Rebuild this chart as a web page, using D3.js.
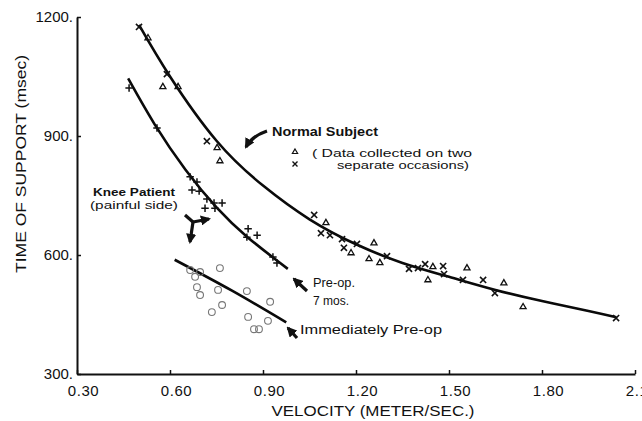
<!DOCTYPE html>
<html>
<head>
<meta charset="utf-8">
<script src="https://cdn.jsdelivr.net/npm/d3@7"></script>
<style>
  body { margin: 0; background: #fff; }
  svg text { font-family: "Liberation Sans", Arial, sans-serif; fill: #111; }
</style>
</head>
<body>
<script>
var width = 642, height = 421;

// axis ticks
var xTicks = [0.30, 0.60, 0.90, 1.20, 1.50, 1.80, 2.10];
var yTicks = [300, 600, 900, 1200];

// normal subject, triangles (occasion 1) and x's (occasion 2)  [velocity, msec]
var normalTri = [[0.529,1147],[0.577,1024],[0.626,1024],[0.752,870],[0.761,837],
  [1.103,681],[1.184,605],[1.258,630],[1.242,590],[1.277,580],[1.448,570],
  [1.558,567],[1.432,537],[1.677,529],[1.739,469]];
var normalX = [[0.500,1175],[0.590,1056],[0.719,887],[1.065,701],[1.087,655],
  [1.116,650],[1.155,640],[1.161,618],[1.203,628],[1.300,597],[1.371,565],
  [1.400,567],[1.423,577],[1.481,572],[1.484,552],[1.545,537],[1.610,537],
  [1.648,504],[2.039,441]];
// knee patient, pre-op 7 mos (+)
var preOp7 = [[0.468,1021],[0.558,920],[0.665,797],[0.687,784],[0.671,764],
  [0.694,761],[0.719,741],[0.742,731],[0.768,731],[0.713,718],[0.745,718],
  [0.852,666],[0.881,650],[0.848,645],[0.932,595],[0.945,580]];
// knee patient, immediately pre-op (o)
var preOpNow = [[0.665,562],[0.697,557],[0.681,545],[0.761,567],[0.687,519],
  [0.697,499],[0.755,512],[0.848,509],[0.768,474],[0.735,456],[0.852,444],
  [0.923,482],[0.916,434],[0.871,413],[0.887,413]];

// hand-fitted curves
var normalFit = [[0.50,1180],[0.60,1050],[0.75,888],[0.90,775],[1.05,690],[1.20,627],
  [1.35,580],[1.50,545],[1.65,512],[1.80,484],[1.95,459],[2.04,443]];
var preOp7Fit = [[0.465,1045],[0.55,930],[0.65,815],[0.75,720],[0.85,645],[0.98,565]];
var preOpNowFit = [[0.615,588],[0.80,510],[0.975,430]];

var svg = d3.select("body").append("svg")
  .attr("width", width).attr("height", height);

var x = d3.scaleLinear().domain([0.30, 2.10]).range([77, 635]);
var y = d3.scaleLinear().domain([300, 1200]).range([374, 17]);

// axes
var xAxis = d3.axisBottom(x).tickValues(xTicks).tickSize(-4).tickSizeOuter(0)
  .tickPadding(11).tickFormat(d3.format(".2f"));
var gx = svg.append("g").attr("transform", "translate(0," + y(300) + ")").call(xAxis);
gx.selectAll("text").attr("dx", 6).style("font-size", "15px").style("letter-spacing", "0.6px");

var yAxis = d3.axisLeft(y).tickValues(yTicks).tickSize(-4).tickSizeOuter(0)
  .tickPadding(4).tickFormat(function(d){ return d + "."; });
var gy = svg.append("g").attr("transform", "translate(" + x(0.30) + ",0)").call(yAxis);
gy.selectAll("text").style("font-size", "15px");

svg.selectAll(".domain").attr("stroke", "#111").attr("stroke-width", 2);
svg.selectAll(".tick line").attr("stroke", "#111").attr("stroke-width", 1.5);
svg.selectAll(".tick text").attr("fill", "#111");

// axis titles
svg.append("text")
  .attr("transform", "translate(26," + 164 + ") rotate(-90)")
  .attr("text-anchor", "middle")
  .attr("textLength", 218).attr("lengthAdjust", "spacingAndGlyphs")
  .style("font-size", "15px")
  .text("TIME OF SUPPORT (msec)");
svg.append("text")
  .attr("x", 373).attr("y", 416)
  .attr("text-anchor", "middle")
  .attr("textLength", 203).attr("lengthAdjust", "spacingAndGlyphs")
  .style("font-size", "15px")
  .text("VELOCITY (METER/SEC.)");

// fitted curves
var line = d3.line()
  .x(function(d){ return x(d[0]); })
  .y(function(d){ return y(d[1]); })
  .curve(d3.curveNatural);
[normalFit, preOp7Fit, preOpNowFit].forEach(function(c){
  svg.append("path").datum(c).attr("d", line)
    .attr("fill", "none").attr("stroke", "#0a0a0a").attr("stroke-width", 2.6);
});

// scatter marks
var timesType = d3.symbolTimes || d3.symbolX || d3.symbolCross;
var plusType = d3.symbolPlus || d3.symbolCross;

function drawSymbols(data, type, size, stroke, sw, fill) {
  svg.append("g").selectAll("path").data(data).enter().append("path")
    .attr("transform", function(d){ return "translate(" + x(d[0]) + "," + y(d[1]) + ")"; })
    .attr("d", d3.symbol().type(type).size(size))
    .attr("fill", fill).attr("stroke", stroke).attr("stroke-width", sw);
}
drawSymbols(normalTri, d3.symbolTriangle, 16, "#111", 1.3, "none");
drawSymbols(normalX, timesType, 26, "#111", 1.6, "none");
drawSymbols(preOp7, plusType, 20, "#111", 1.5, "none");
svg.append("g").selectAll("circle").data(preOpNow).enter().append("circle")
  .attr("cx", function(d){ return x(d[0]); })
  .attr("cy", function(d){ return y(d[1]); })
  .attr("r", 3.4)
  .attr("fill", "none").attr("stroke", "#777").attr("stroke-width", 1.1);

// annotations
svg.append("defs").append("marker")
  .attr("id", "head").attr("viewBox", "0 0 10 10")
  .attr("refX", 8).attr("refY", 5)
  .attr("markerWidth", 3.2).attr("markerHeight", 3.2)
  .attr("orient", "auto")
  .append("path").attr("d", "M0,0 L10,5 L0,10 Z").attr("fill", "#111");

function note(txt, px, py, len, size, weight) {
  svg.append("text").attr("x", px).attr("y", py)
    .attr("textLength", len).attr("lengthAdjust", "spacingAndGlyphs")
    .style("font-size", size + "px").style("font-weight", weight || "normal")
    .text(txt);
}
function arrow(dstr, sw) {
  svg.append("path").attr("d", dstr).attr("fill", "none")
    .attr("stroke", "#111").attr("stroke-width", sw)
    .attr("marker-end", "url(#head)");
}

note("Normal Subject", 272, 136, 106, 13, "bold");
note("( Data collected on two", 312, 157, 160, 11, "normal");
note("separate occasions)", 337, 169, 132, 11, "normal");
svg.append("path").attr("transform", "translate(295,152)")
  .attr("d", d3.symbol().type(d3.symbolTriangle).size(12))
  .attr("fill", "none").attr("stroke", "#111").attr("stroke-width", 1.2);
svg.append("path").attr("transform", "translate(295,164)")
  .attr("d", d3.symbol().type(timesType).size(18))
  .attr("fill", "none").attr("stroke", "#111").attr("stroke-width", 1.4);
arrow("M267,131 Q252,136 246,147", 3.2);

note("Knee Patient", 93, 196, 82, 11.5, "bold");
note("(painful side)", 90, 209, 88, 11.5, "normal");
svg.append("path").attr("d", "M185,215 L193,222").attr("stroke", "#111").attr("stroke-width", 3.2);
arrow("M193,222 L209,219", 3.2);
arrow("M193,222 L190,242", 3.2);

note("Pre-op.", 313, 287, 42, 12, "normal");
note("7 mos.", 313, 305, 36, 12, "normal");
arrow("M307,291 L294,279", 3.2);

note("Immediately Pre-op", 300, 334, 142, 12, "normal");
arrow("M297,338 L288,328", 3.2);
</script>
</body>
</html>
